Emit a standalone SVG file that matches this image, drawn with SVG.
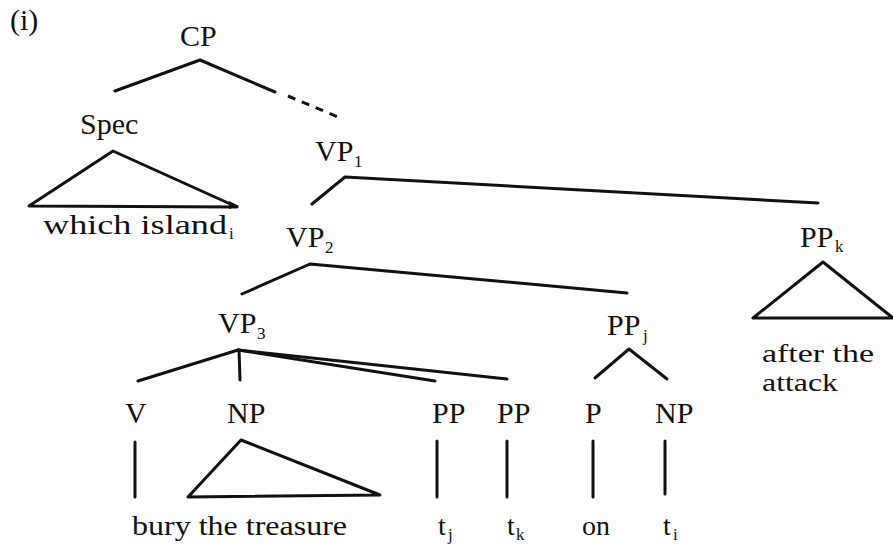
<svg xmlns="http://www.w3.org/2000/svg" width="893" height="546" viewBox="0 0 893 546">
<style>
text{font-family:"Liberation Serif","Times New Roman",serif;font-size:30px;fill:#111}
.lc{font-size:28px}
.sm{font-size:26px}
.sub{font-size:17px}
.ln{stroke:#111;stroke-width:3;fill:none;stroke-linecap:round;stroke-linejoin:round}
.dash{stroke:#111;stroke-width:3;fill:none;stroke-dasharray:8 7}
</style>
<rect width="893" height="546" fill="#fff"/>
<g id="label-i"><text x="10" y="30">(i)</text></g>
<g id="connectors">
<polyline class="ln" points="115,91 200,60 275,92"/>
<line class="dash" x1="288" y1="96" x2="338" y2="117"/>
<polygon class="ln" points="113,151 29,206 237,207"/>
<polygon points="229,201 239,206 229,209" fill="#111"/>
<polyline class="ln" points="312,204 345,177 818,203"/>
<polyline class="ln" points="242,294 310,264 627,293"/>
<polyline class="ln" points="138,381 238,350 435,381"/>
<line class="ln" x1="238" y1="350" x2="507" y2="379"/>
<line class="ln" x1="239" y1="350" x2="240" y2="380"/>
<polyline class="ln" points="595,378 629,349 667,379"/>
<polygon class="ln" points="823,262 753,318 893,318"/>
<line class="ln" x1="135" y1="442" x2="135" y2="497"/>
<polygon class="ln" points="241,440 188,497 380,495"/>
<line class="ln" x1="437" y1="441" x2="437" y2="497"/>
<line class="ln" x1="507" y1="441" x2="507" y2="497"/>
<line class="ln" x1="593" y1="441" x2="593" y2="497"/>
<line class="ln" x1="665" y1="441" x2="665" y2="494"/>
</g>
<g id="CP"><text x="180" y="46">CP</text></g>
<g id="Spec"><text x="80" y="134">Spec</text></g>
<g id="which-island"><text class="lc" x="43" y="234" textLength="184" lengthAdjust="spacingAndGlyphs">which island</text><text class="sub" x="229" y="239">i</text></g>
<g id="VP1"><text x="315" y="161">VP</text><text class="sub" x="354" y="167">1</text></g>
<g id="VP2"><text x="286" y="247">VP</text><text class="sub" x="325" y="253">2</text></g>
<g id="VP3"><text x="218" y="333">VP</text><text class="sub" x="257" y="339">3</text></g>
<g id="PPk"><text x="800" y="247">PP</text><text class="sub" x="835" y="252">k</text></g>
<g id="after-the-attack"><text class="sm" x="762" y="362" textLength="112" lengthAdjust="spacingAndGlyphs">after the</text><text class="sm" x="762" y="391" textLength="76" lengthAdjust="spacingAndGlyphs">attack</text></g>
<g id="PPj"><text x="607" y="335">PP</text><text class="sub" x="643" y="341">j</text></g>
<g id="V"><text x="125" y="423">V</text></g>
<g id="NP1"><text x="227" y="423">NP</text></g>
<g id="PP1"><text x="432" y="423">PP</text></g>
<g id="PP2"><text x="497" y="423">PP</text></g>
<g id="P"><text x="585" y="423">P</text></g>
<g id="NP2"><text x="655" y="423">NP</text></g>
<g id="bury-the-treasure"><text class="lc" x="132" y="535" textLength="215" lengthAdjust="spacingAndGlyphs">bury the treasure</text></g>
<g id="tj"><text class="lc" x="438" y="535">t</text><text class="sub" x="448" y="540">j</text></g>
<g id="tk"><text class="lc" x="507" y="535">t</text><text class="sub" x="516" y="540">k</text></g>
<g id="on"><text class="lc" x="582" y="535">on</text></g>
<g id="ti"><text class="lc" x="663" y="535">t</text><text class="sub" x="673" y="540">i</text></g>
</svg>
